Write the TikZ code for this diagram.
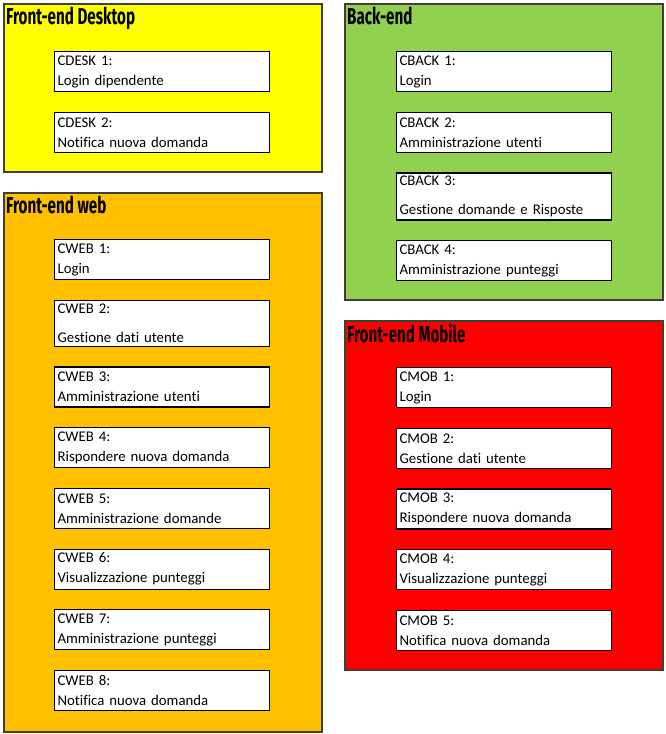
\documentclass[tikz,border=0pt]{standalone}
\usepackage{fontspec}
\setmainfont[Ligatures=NoCommon]{Carlito}
\newfontfamily\titlefont[FakeStretch=0.66]{Fira Sans}
\usetikzlibrary{positioning}

\definecolor{deskyellow}{RGB}{255,255,0}
\definecolor{backgreen}{RGB}{146,208,80}
\definecolor{weborange}{RGB}{255,192,0}
\definecolor{mobred}{RGB}{255,0,0}
\definecolor{panelline}{RGB}{64,64,48}

\tikzset{
    panel/.style={
           rectangle,
           draw=panelline, line width=1.5pt,
           anchor=north west,
           inner sep=0pt,
           },
    req/.style={
           rectangle,
           draw=black, line width=1.2pt,
           fill=white,
           minimum width=215pt,
           minimum height=40pt,
           text width=209pt,
           inner sep=3pt,
           align=left,
           font=\fontsize{14.8}{20}\selectfont,
           },
    reqtall/.style={
           req,
           minimum height=46pt,
           },
    paneltitle/.style={
           anchor=north west,
           inner sep=0pt,
           font=\fontsize{23}{23}\titlefont\bfseries,
           },
}

\begin{document}
\begin{tikzpicture}
[
x=1pt,y=-1pt,
node distance=19.5pt
]
 \useasboundingbox (0,0) rectangle (666,734);

 % PANELS
 \node[panel, fill=deskyellow, minimum width=318pt, minimum height=168pt] (DESK) at (3,3) {};
 \node[panel, fill=weborange, minimum width=318pt, minimum height=539pt] (WEB) at (3,192) {};
 \node[panel, fill=backgreen, minimum width=318pt, minimum height=296pt] (BACK) at (344,3) {};
 \node[panel, fill=mobred, minimum width=318pt, minimum height=349pt] (MOB) at (344,320) {};

 \node[paneltitle] (DESKTITLE) at (6,7) {Front-end Desktop};
 \node[paneltitle] (WEBTITLE) at (6,196) {Front-end web};
 \node[paneltitle] (BACKTITLE) at (347,7) {Back-end};
 \node[paneltitle] (MOBTITLE) at (347,324) {Front-end Mobile};

 % FRONT-END DESKTOP
 \node[req, anchor=north west] (CDESK1) at (54,51) {CDESK 1:\\Login dipendente};
 \node[req, below=of CDESK1] (CDESK2) {CDESK 2:\\Notifica nuova domanda};

 % FRONT-END WEB
 \node[req, anchor=north west] (CWEB1) at (54,239) {CWEB 1:\\Login};
 \node[reqtall, below=of CWEB1] (CWEB2) {CWEB 2:\\[9pt]Gestione dati utente};
 \node[req, below=of CWEB2] (CWEB3) {CWEB 3:\\Amministrazione utenti};
 \node[req, below=of CWEB3] (CWEB4) {CWEB 4:\\Rispondere nuova domanda};
 \node[req, below=of CWEB4] (CWEB5) {CWEB 5:\\Amministrazione domande};
 \node[req, below=of CWEB5] (CWEB6) {CWEB 6:\\Visualizzazione punteggi};
 \node[req, below=of CWEB6] (CWEB7) {CWEB 7:\\Amministrazione punteggi};
 \node[req, below=of CWEB7] (CWEB8) {CWEB 8:\\Notifica nuova domanda};

 % BACK-END
 \node[req, anchor=north west] (CBACK1) at (396,51) {CBACK 1:\\Login};
 \node[req, below=of CBACK1] (CBACK2) {CBACK 2:\\Amministrazione utenti};
 \node[reqtall, below=of CBACK2] (CBACK3) {CBACK 3:\\[9pt]Gestione domande e Risposte};
 \node[req, below=of CBACK3] (CBACK4) {CBACK 4:\\Amministrazione punteggi};

 % FRONT-END MOBILE
 \node[req, anchor=north west] (CMOB1) at (396,367) {CMOB 1:\\Login};
 \node[req, below=of CMOB1] (CMOB2) {CMOB 2:\\Gestione dati utente};
 \node[req, below=of CMOB2] (CMOB3) {CMOB 3:\\Rispondere nuova domanda};
 \node[req, below=of CMOB3] (CMOB4) {CMOB 4:\\Visualizzazione punteggi};
 \node[req, below=of CMOB4] (CMOB5) {CMOB 5:\\Notifica nuova domanda};
\end{tikzpicture}
\end{document}
